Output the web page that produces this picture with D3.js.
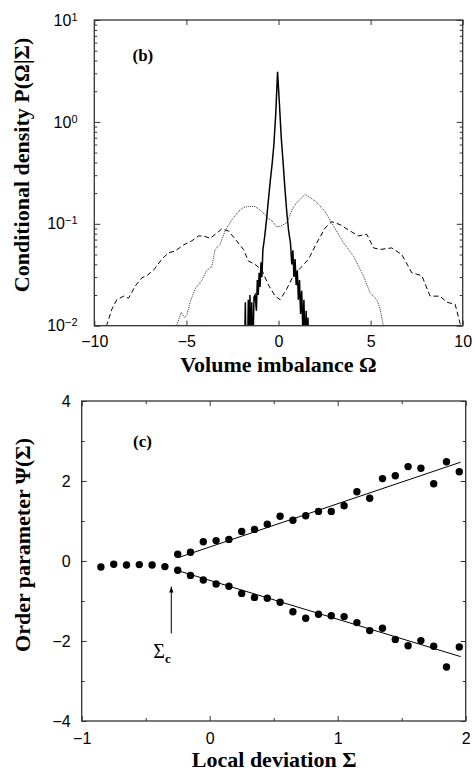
<!DOCTYPE html>
<html>
<head>
<meta charset="utf-8">
<script src="https://cdn.jsdelivr.net/npm/d3@7"></script>
<style>
  body { margin: 0; background: #fff; }
  svg { display: block; }
  .tick text { font-family: "Liberation Sans", Arial, sans-serif; font-size: 16px; fill: #000; }
  .tick line { stroke: #333; stroke-width: 1; }
  .title { font-family: "Liberation Serif", "Times New Roman", serif; font-weight: bold; font-size: 22px; fill: #000; }
</style>
</head>
<body>
<div id="chart"></div>
<script>
// ---- panel (b): conditional density ----
let solidOmega = [-1.85, -1.8, -1.76, -1.68, -1.64, -1.6, -1.55, -1.5, -1.45, -1.4, -1.33, -1.27, -1.2, -1.15, -1.1, -1.05, -1.0, -0.95, -0.9, -0.85, -0.75, -0.65, -0.55, -0.45, -0.35, -0.25, -0.15, -0.05, 0.05, 0.15, 0.25, 0.35, 0.45, 0.55, 0.65, 0.72, 0.78, 0.84, 0.9, 0.96, 1.02, 1.08, 1.14, 1.2, 1.26, 1.32, 1.38, 1.44, 1.5, 1.56, 1.6, 1.65];
let solidP = [0.005, 0.017, 0.005, 0.005, 0.018, 0.005, 0.02, 0.006, 0.017, 0.005, 0.019, 0.02, 0.014, 0.028, 0.02, 0.033, 0.024, 0.042, 0.03, 0.055, 0.075, 0.11, 0.17, 0.26, 0.38, 0.6, 1.2, 3.1, 1.5, 0.7, 0.4, 0.22, 0.13, 0.085, 0.065, 0.04, 0.055, 0.03, 0.045, 0.025, 0.035, 0.018, 0.028, 0.013, 0.022, 0.009, 0.018, 0.006, 0.014, 0.005, 0.012, 0.005];

let dottedOmega = [-5.55, -5.28, -5.1, -4.98, -4.8, -4.52, -4.16, -3.89, -3.62, -3.44, -3.17, -2.9, -2.53, -2.17, -1.9, -1.63, -1.27, -0.9, -0.6, -0.36, -0.1, 0.1, 0.45, 0.75, 1.0, 1.45, 1.75, 2.08, 2.53, 2.99, 3.53, 4.07, 4.61, 4.97, 5.34, 5.52, 5.7];
let dottedP = [0.0098, 0.0135, 0.012, 0.0126, 0.017, 0.023, 0.028, 0.035, 0.038, 0.056, 0.063, 0.085, 0.11, 0.132, 0.145, 0.148, 0.148, 0.132, 0.115, 0.107, 0.093, 0.095, 0.102, 0.14, 0.162, 0.195, 0.18, 0.162, 0.132, 0.095, 0.065, 0.048, 0.031, 0.021, 0.018, 0.0145, 0.0098];

let dashedOmega = [-9.6, -9.32, -9.05, -8.78, -8.41, -8.14, -7.78, -7.42, -7.15, -6.79, -6.33, -5.97, -5.61, -5.16, -4.71, -4.34, -4.07, -3.71, -3.35, -3.08, -2.71, -2.36, -1.9, -1.63, -1.27, -0.9, -0.54, -0.18, 0.09, 0.45, 0.81, 1.26, 1.63, 2.08, 2.53, 2.89, 3.35, 3.8, 4.34, 4.79, 5.16, 5.52, 6.15, 6.69, 7.24, 7.78, 8.23, 8.77, 9.14, 9.59, 9.86, 9.95];
let dashedP = [0.0085, 0.0102, 0.0145, 0.018, 0.0195, 0.0186, 0.0245, 0.0295, 0.031, 0.035, 0.045, 0.052, 0.054, 0.062, 0.068, 0.076, 0.076, 0.072, 0.081, 0.089, 0.085, 0.071, 0.056, 0.043, 0.04, 0.035, 0.025, 0.0195, 0.018, 0.023, 0.031, 0.038, 0.045, 0.065, 0.091, 0.105, 0.098, 0.087, 0.076, 0.079, 0.058, 0.056, 0.058, 0.05, 0.033, 0.031, 0.0195, 0.0195, 0.017, 0.0162, 0.0105, 0.008];

let omegaTicks = [-10, -5, 0, 5, 10];
let decadeTicks = [0.01, 0.1, 1, 10];
let decadeLabels = ["\u22122", "\u22121", "0", "1"];

// ---- panel (c): order parameter ----
let sigmaFlat = [-0.85, -0.75, -0.65, -0.55, -0.45, -0.35];
let psiFlat = [-0.15, -0.08, -0.1, -0.09, -0.1, -0.14];
let sigmaBranch = [-0.25, -0.15, -0.05, 0.05, 0.15, 0.25, 0.35, 0.45, 0.55, 0.65, 0.75, 0.85, 0.95, 1.05, 1.15, 1.25, 1.35, 1.45, 1.55, 1.65, 1.75, 1.85, 1.95];
let psiUpper = [0.17, 0.22, 0.48, 0.51, 0.54, 0.74, 0.79, 0.92, 1.12, 1.02, 1.13, 1.24, 1.24, 1.38, 1.73, 1.57, 2.06, 2.13, 2.36, 2.32, 1.93, 2.48, 2.23];
let psiLower = [-0.23, -0.36, -0.475, -0.575, -0.63, -0.81, -0.91, -0.93, -1.03, -1.27, -1.43, -1.33, -1.37, -1.39, -1.54, -1.74, -1.68, -1.96, -2.12, -1.99, -2.13, -2.65, -2.15];
let fitSigma = [-0.25, 1.96];
let fitUpper = [0.08, 2.47];
let fitLower = [-0.24, -2.39];
let sigmaCrit = -0.3;
let arrowPsi = [-1.81, -0.64];

let sigmaTicks = [-1, -0.5, 0, 0.5, 1, 1.5, 2];
let sigmaLabels = [-1, 0, 1, 2];
let psiTicks = [-4, -3, -2, -1, 0, 1, 2, 3, 4];
let psiLabels = [-4, -2, 0, 2, 4];

const width = 475, height = 772;
const fmt = v => (v < 0 ? "\u2212" + Math.abs(v) : String(v));

let svg = d3.select("#chart").append("svg")
  .attr("width", width).attr("height", height);

let defs = svg.append("defs");
defs.append("marker").attr("id", "arr")
  .attr("viewBox", "0 0 10 10").attr("refX", 10).attr("refY", 5)
  .attr("markerWidth", 6).attr("markerHeight", 6).attr("orient", "auto")
  .append("path").attr("d", "M0,1.5 L10,5 L0,8.5 Z").attr("fill", "#000");

// ================= top panel =================
let b = { left: 94.3, right: 462.7, top: 20, bottom: 325.7 };
let xTop = d3.scaleLinear().domain([-10, 10]).range([b.left, b.right]);
let yTop = d3.scaleLog().domain([0.01, 10]).range([b.bottom, b.top]);

defs.append("clipPath").attr("id", "clipTop")
  .append("rect").attr("x", b.left).attr("y", b.top)
  .attr("width", b.right - b.left).attr("height", b.bottom - b.top);

let minorDecades = [];
[0.01, 0.1, 1].forEach(d => { for (let k = 2; k <= 9; k++) minorDecades.push(d * k); });

// ticks
svg.append("g").attr("transform", `translate(0,${b.bottom})`)
  .call(d3.axisBottom(xTop).tickValues(omegaTicks).tickSize(-5).tickSizeOuter(0).tickPadding(9.5).tickFormat(fmt))
  .call(g => g.select(".domain").remove());
svg.append("g").attr("transform", `translate(0,${b.top})`)
  .call(d3.axisTop(xTop).tickValues(omegaTicks).tickSize(-5).tickSizeOuter(0).tickFormat(""))
  .call(g => g.select(".domain").remove());
[[b.left, d3.axisLeft], [b.right, d3.axisRight]].forEach(([x0, ax]) => {
  svg.append("g").attr("transform", `translate(${x0},0)`)
    .call(ax(yTop).tickValues(decadeTicks).tickSize(-6).tickSizeOuter(0).tickFormat(""))
    .call(g => g.select(".domain").remove());
  svg.append("g").attr("transform", `translate(${x0},0)`)
    .call(ax(yTop).tickValues(minorDecades).tickSize(-3).tickSizeOuter(0).tickFormat(""))
    .call(g => g.select(".domain").remove());
});

// decade labels 10^n
let dl = svg.append("g").selectAll("text").data(decadeTicks).enter().append("text")
  .attr("x", 77.5).attr("y", d => yTop(d)).attr("dy", "0.35em")
  .attr("text-anchor", "end")
  .style("font-family", "'Liberation Sans', Arial, sans-serif").style("font-size", "16px");
dl.append("tspan").text("10");
dl.append("tspan").attr("dy", "-0.45em").style("font-size", "11px").text((d, i) => decadeLabels[i]);

// curves
let lineTop = d3.line().x(d => xTop(d[0])).y(d => yTop(d[1]));
let gTop = svg.append("g").attr("clip-path", "url(#clipTop)");
gTop.append("path").datum(dashedOmega.map((o, i) => [o, dashedP[i]]))
  .attr("d", lineTop).attr("fill", "none").attr("stroke", "#000")
  .attr("stroke-width", 1).attr("stroke-dasharray", "5,3");
gTop.append("path").datum(dottedOmega.map((o, i) => [o, dottedP[i]]))
  .attr("d", lineTop).attr("fill", "none").attr("stroke", "#333")
  .attr("stroke-width", 1).attr("stroke-dasharray", "1,1");
gTop.append("path").datum(solidOmega.map((o, i) => [o, solidP[i]]))
  .attr("d", lineTop).attr("fill", "none").attr("stroke", "#000")
  .attr("stroke-width", 1.5);

svg.append("rect").attr("x", b.left).attr("y", b.top)
  .attr("width", b.right - b.left).attr("height", b.bottom - b.top)
  .attr("fill", "none").attr("stroke", "#333").attr("stroke-width", 1.3);

svg.append("text").attr("x", 132.5).attr("y", 61)
  .style("font-family", "'Liberation Serif', serif").style("font-weight", "bold").style("font-size", "17px")
  .text("(b)");
svg.append("text").attr("class", "title").attr("x", (b.left + b.right) / 2).attr("y", 372)
  .attr("text-anchor", "middle").text("Volume imbalance \u03A9");
svg.append("text").attr("class", "title")
  .attr("transform", "translate(29,165) rotate(-90)")
  .attr("text-anchor", "middle").text("Conditional density P(\u03A9|\u03A3)");

// ================= bottom panel =================
let c = { left: 81.7, right: 465.7, top: 401, bottom: 721 };
let xBot = d3.scaleLinear().domain([-1, 2]).range([c.left, c.right]);
let yBot = d3.scaleLinear().domain([-4, 4]).range([c.bottom, c.top]);
let isLabX = v => sigmaLabels.includes(v);
let isLabY = v => psiLabels.includes(v);

svg.append("g").attr("transform", `translate(0,${c.bottom})`)
  .call(d3.axisBottom(xBot).tickValues(sigmaTicks).tickSize(-5).tickSizeOuter(0).tickPadding(12)
    .tickFormat(v => isLabX(v) ? fmt(v) : ""))
  .call(g => g.select(".domain").remove())
  .call(g => g.selectAll(".tick line").attr("y2", v => isLabX(v) ? -5 : -3));
svg.append("g").attr("transform", `translate(0,${c.top})`)
  .call(d3.axisTop(xBot).tickValues(sigmaTicks).tickSize(-5).tickSizeOuter(0).tickFormat(""))
  .call(g => g.select(".domain").remove())
  .call(g => g.selectAll(".tick line").attr("y2", v => isLabX(v) ? 5 : 3));
svg.append("g").attr("transform", `translate(${c.left},0)`)
  .call(d3.axisLeft(yBot).tickValues(psiTicks).tickSize(-5).tickSizeOuter(0).tickPadding(11)
    .tickFormat(v => isLabY(v) ? fmt(v) : ""))
  .call(g => g.select(".domain").remove())
  .call(g => g.selectAll(".tick line").attr("x2", v => isLabY(v) ? 5 : 3));
svg.append("g").attr("transform", `translate(${c.right},0)`)
  .call(d3.axisRight(yBot).tickValues(psiTicks).tickSize(-5).tickSizeOuter(0).tickFormat(""))
  .call(g => g.select(".domain").remove())
  .call(g => g.selectAll(".tick line").attr("x2", v => isLabY(v) ? -5 : -3));

// fit lines
let lineBot = d3.line().x(d => xBot(d[0])).y(d => yBot(d[1]));
[fitUpper, fitLower].forEach(f => {
  svg.append("path").datum(fitSigma.map((s, i) => [s, f[i]]))
    .attr("d", lineBot).attr("fill", "none").attr("stroke", "#000").attr("stroke-width", 1);
});

// dots
let pts = sigmaFlat.map((s, i) => [s, psiFlat[i]])
  .concat(sigmaBranch.map((s, i) => [s, psiUpper[i]]))
  .concat(sigmaBranch.map((s, i) => [s, psiLower[i]]));
svg.append("g").selectAll("circle").data(pts).enter().append("circle")
  .attr("cx", d => xBot(d[0])).attr("cy", d => yBot(d[1])).attr("r", 3.7).attr("fill", "#000");

// sigma_c arrow
svg.append("line")
  .attr("x1", xBot(sigmaCrit)).attr("x2", xBot(sigmaCrit))
  .attr("y1", yBot(arrowPsi[0])).attr("y2", yBot(arrowPsi[1]))
  .attr("stroke", "#000").attr("stroke-width", 1).attr("marker-end", "url(#arr)");
let sc = svg.append("text").attr("x", xBot(sigmaCrit) - 18).attr("y", 658)
  .style("font-family", "'Liberation Serif', serif").style("font-size", "20px");
sc.append("tspan").text("\u03A3");
sc.append("tspan").attr("dy", "5").style("font-size", "13px").style("font-weight", "bold").text("c");

svg.append("rect").attr("x", c.left).attr("y", c.top)
  .attr("width", c.right - c.left).attr("height", c.bottom - c.top)
  .attr("fill", "none").attr("stroke", "#333").attr("stroke-width", 1.3);

svg.append("text").attr("x", 133).attr("y", 447)
  .style("font-family", "'Liberation Serif', serif").style("font-weight", "bold").style("font-size", "17px")
  .text("(c)");
svg.append("text").attr("class", "title").attr("x", (c.left + c.right) / 2 + 0.5).attr("y", 767)
  .attr("text-anchor", "middle").text("Local deviation \u03A3");
svg.append("text").attr("class", "title")
  .attr("transform", "translate(30,545) rotate(-90)")
  .attr("text-anchor", "middle").text("Order parameter \u03A8(\u03A3)");
</script>
</body>
</html>
